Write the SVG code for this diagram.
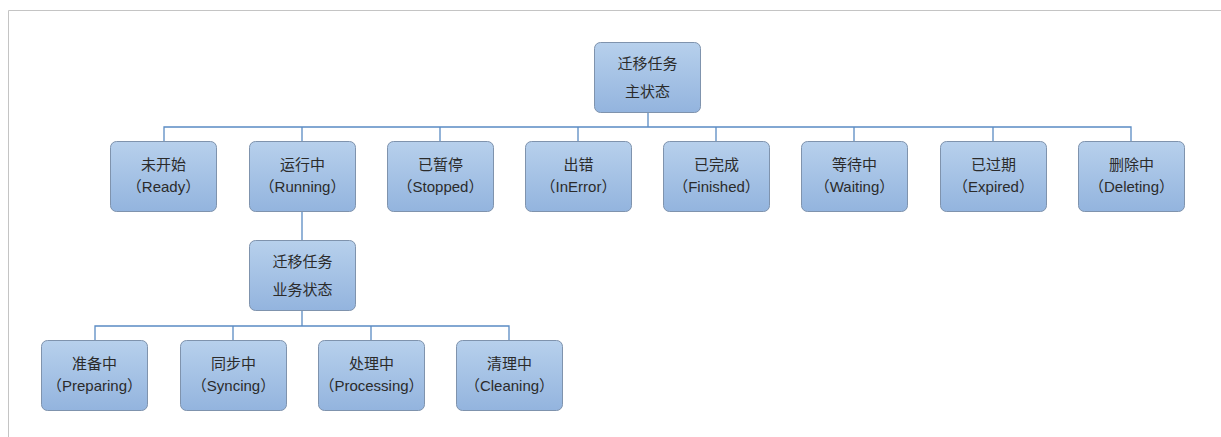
<svg xmlns="http://www.w3.org/2000/svg" width="1221" height="437" viewBox="0 0 1221 437">
<style>
.n rect{fill:url(#g);stroke:#7f93ad;stroke-width:1}
.n text{font-family:"Liberation Sans","Noto Sans CJK SC",sans-serif;font-size:15px;fill:#2b2b2b;text-anchor:middle}
.c path{fill:none;stroke:#5a8bc3;stroke-width:1.3}
</style>
<defs>
<linearGradient id="g" x1="0" y1="0" x2="0" y2="1">
<stop offset="0" stop-color="#b7d0ec"/>
<stop offset="1" stop-color="#93b4de"/>
</linearGradient>
</defs>
<rect width="1221" height="437" fill="#fff"/>
<path d="M8.5 437V10.5H1221" fill="none" stroke="#c4c4c4" stroke-width="1"/>
<g class="c">
<path d="M648 112V127M164 141V127H1131V141M302 127V141M440 127V141M578 127V141M716 127V141M854 127V141M993 127V141"/>
<path d="M302 212V240M302 311V326M95 340V326H509V340M233 326V340M371 326V340"/>
</g>
<g class="n" id="main"><rect x="594.5" y="42.5" width="106" height="70" rx="6"/><text x="647.5" y="69">迁移任务</text><text x="647.5" y="97">主状态</text></g>
<g class="n" id="ready"><rect x="110.5" y="141.5" width="106" height="70" rx="6"/><text x="163.5" y="170">未开始</text><text x="163.5" y="192">（Ready）</text></g>
<g class="n" id="running"><rect x="249.5" y="141.5" width="106" height="70" rx="6"/><text x="302.5" y="170">运行中</text><text x="302.5" y="192">（Running）</text></g>
<g class="n" id="stopped"><rect x="387.5" y="141.5" width="106" height="70" rx="6"/><text x="440.5" y="170">已暂停</text><text x="440.5" y="192">（Stopped）</text></g>
<g class="n" id="inerror"><rect x="525.5" y="141.5" width="106" height="70" rx="6"/><text x="578.5" y="170">出错</text><text x="578.5" y="192">（InError）</text></g>
<g class="n" id="finished"><rect x="663.5" y="141.5" width="106" height="70" rx="6"/><text x="716.5" y="170">已完成</text><text x="716.5" y="192">（Finished）</text></g>
<g class="n" id="waiting"><rect x="801.5" y="141.5" width="106" height="70" rx="6"/><text x="854.5" y="170">等待中</text><text x="854.5" y="192">（Waiting）</text></g>
<g class="n" id="expired"><rect x="940.5" y="141.5" width="106" height="70" rx="6"/><text x="993.5" y="170">已过期</text><text x="993.5" y="192">（Expired）</text></g>
<g class="n" id="deleting"><rect x="1078.5" y="141.5" width="106" height="70" rx="6"/><text x="1131.5" y="170">删除中</text><text x="1131.5" y="192">（Deleting）</text></g>
<g class="n" id="biz"><rect x="249.5" y="240.5" width="106" height="70" rx="6"/><text x="302.5" y="267">迁移任务</text><text x="302.5" y="295">业务状态</text></g>
<g class="n" id="preparing"><rect x="41.5" y="340.5" width="106" height="70" rx="6"/><text x="94.5" y="369">准备中</text><text x="94.5" y="391">（Preparing）</text></g>
<g class="n" id="syncing"><rect x="180.5" y="340.5" width="106" height="70" rx="6"/><text x="233.5" y="369">同步中</text><text x="233.5" y="391">（Syncing）</text></g>
<g class="n" id="processing"><rect x="318.5" y="340.5" width="106" height="70" rx="6"/><text x="371.5" y="369">处理中</text><text x="371.5" y="391">（Processing）</text></g>
<g class="n" id="cleaning"><rect x="456.5" y="340.5" width="106" height="70" rx="6"/><text x="509.5" y="369">清理中</text><text x="509.5" y="391">（Cleaning）</text></g>
</svg>
